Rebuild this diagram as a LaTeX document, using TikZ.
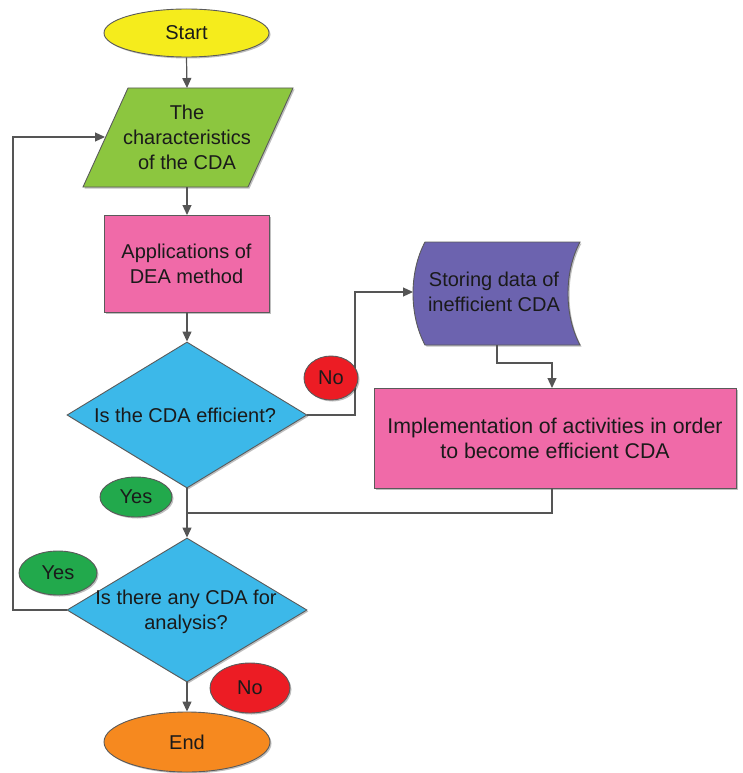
\documentclass[tikz,border=0pt]{standalone}
\usepackage{fontspec}
\setmainfont{Liberation Sans}
\usetikzlibrary{shapes.geometric,arrows.meta,shadows}
\definecolor{cYellow}{HTML}{F5EC1C}
\definecolor{cGreen}{HTML}{8CC63F}
\definecolor{cPink}{HTML}{F06AA8}
\definecolor{cBlue}{HTML}{3CB8E9}
\definecolor{cPurple}{HTML}{6C63AF}
\definecolor{cRed}{HTML}{EC1C24}
\definecolor{cDGreen}{HTML}{22A94C}
\definecolor{cOrange}{HTML}{F6891F}
\definecolor{cEdge}{HTML}{5A5A5A}
\definecolor{cLine}{HTML}{555555}
\definecolor{cText}{HTML}{1A1A1A}
\begin{document}
\begin{tikzpicture}[x=1pt,y=-1pt,
  font=\fontsize{20}{25}\selectfont, text=cText,
  base/.style={draw=cEdge, line width=0.9pt,
    drop shadow={shadow xshift=1.5pt,shadow yshift=-1.5pt,opacity=0.25,fill=black}},
  term/.style={base, ellipse, inner sep=0pt},
  proc/.style={base, rectangle, inner sep=0pt},
  dec/.style={base, diamond, inner sep=0pt, fill=cBlue},
  txt/.style={align=center, inner sep=0pt},
  flow/.style={draw=cLine, line width=1.2pt, -{Triangle[length=10pt,width=9pt]}},
  plain/.style={draw=cLine, line width=1.2pt}]
\useasboundingbox (0,0) rectangle (742,773);

% Start
\node[term, fill=cYellow, minimum width=165pt, minimum height=48pt] (start) at (186.5,33) {Start};

% characteristics (parallelogram)
\path[base, fill=cGreen] (128,88) -- (293,88) -- (248,187) -- (83,187) -- cycle;
\node[txt] (char) at (187,137) {The\\characteristics\\of the CDA};
\coordinate (charTop) at (187,88);
\coordinate (charBot) at (187,187);
\coordinate (charLeft) at (105,137);

% Applications of DEA
\node[proc, fill=cPink, minimum width=165pt, minimum height=97pt, align=center] (app) at (186.5,263.5)
  {Applications of\\DEA method};
\coordinate (appTop) at (187,215);
\coordinate (appBot) at (187,312);

% Decision 1
\node[dec, minimum width=240pt, minimum height=146pt] (d1) at (187,415) {};
\node[txt] (d1Text) at (185,415) {Is the CDA efficient?};

% Storing data
\path[base, fill=cPurple] (425,242) -- (580,242)
  .. controls (564,272) and (564,315) .. (580,345) -- (425,345)
  .. controls (409,315) and (409,272) .. (425,242) -- cycle;
\node[txt] (store) at (494,292) {Storing data of\\inefficient CDA};
\coordinate (storeLeft) at (413,292);
\coordinate (storeBot) at (497,345);

% Implementation
\node[proc, fill=cPink, minimum width=362pt, minimum height=100pt, align=center,
  font=\fontsize{21.3}{25}\selectfont] (impl) at (555,438)
  {Implementation of activities in order\\to become efficient CDA};
\coordinate (implTop) at (552,388);
\coordinate (implBot) at (552,488);

% Decision 2
\node[dec, minimum width=240pt, minimum height=144pt] (d2) at (187,610) {};
\node[txt] (d2Text) at (186,612) {Is there any CDA for\\analysis?};

% End
\node[term, fill=cOrange, minimum width=166pt, minimum height=60pt] (end) at (187,742) {End};

% connectors
\coordinate (j1) at (355,415);
\coordinate (j2) at (355,292);
\coordinate (j3) at (497,363);
\coordinate (j4) at (552,363);
\coordinate (j5) at (552,513);
\coordinate (j6) at (187,513);
\coordinate (j7) at (13,610);
\coordinate (j8) at (13,137);

\draw[flow] (start.south) -- (charTop);
\draw[flow] (charBot) -- (appTop);
\draw[flow] (appBot) -- (d1.north);
\draw[flow] (d1.east) -- (j1) -- (j2) -- (storeLeft);
\draw[flow] (storeBot) -- (j3) -- (j4) -- (implTop);
\draw[flow] (d1.south) -- (d2.north);
\draw[plain] (implBot) -- (j5) -- (j6);
\draw[flow] (d2.west) -- (j7) -- (j8) -- (charLeft);
\draw[flow] (d2.south) -- (end.north);

% labels
\node[term, fill=cRed, minimum width=54pt, minimum height=44pt] (no1) at (331,378) {No};
\node[term, fill=cDGreen, minimum width=72pt, minimum height=40pt] (yes1) at (136,497) {Yes};
\node[term, fill=cDGreen, minimum width=78pt, minimum height=44pt] (yes2) at (58,573) {Yes};
\node[term, fill=cRed, minimum width=80pt, minimum height=50pt] (no2) at (250,688) {No};
\end{tikzpicture}
\end{document}
